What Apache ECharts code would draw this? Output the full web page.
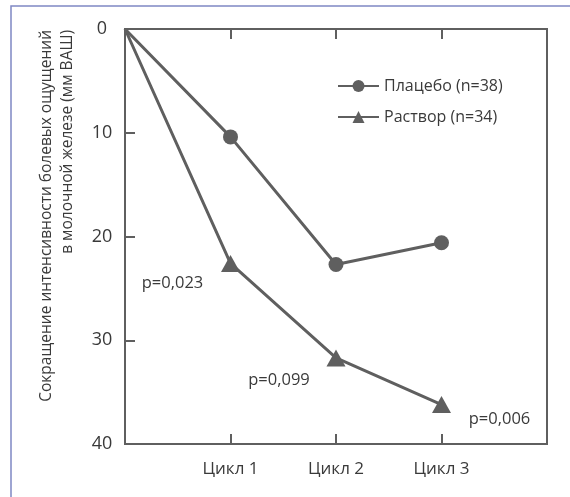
<!DOCTYPE html>
<html style="height: 100%">

<head>
    <meta charset="utf-8">
</head>

<body style="height: 100%; margin: 0; background: #fff">
    <div id="main" style="width: 570px; height: 497px"></div>

    <script type="text/javascript" src="https://cdn.jsdelivr.net/npm/echarts@6/dist/echarts.min.js"></script>

    <script type="text/javascript">
        // cycle positions (0 = start)
        var cycles = [0, 1, 2, 3];
        var cycleNames = ['', 'Цикл 1', 'Цикл 2', 'Цикл 3'];
        var placebo = [0, 10.4, 22.7, 20.6];
        var solution = [0, 22.6, 31.7, 36.2];
        var pValues = ['', 'p=0,023', 'p=0,099', 'p=0,006'];
        var yTicks = [0, 10, 20, 30, 40];

        var textColor = '#3a3a3a';
        var lineColor = '#5f5f5f';
        var font = '"Open Sans", "Noto Sans", sans-serif';

        var dom = document.getElementById("main");
        var myChart = echarts.init(dom);
        var option;

        var pOffsets = [null, [-58, 20], [-57, 22], [58, 15]];

        var placeboData = cycles.map(function (c, i) {
            var item = { value: [c, placebo[i]] };
            if (i === 0) item.symbol = 'none';
            return item;
        });
        var solutionData = cycles.map(function (c, i) {
            var item = { value: [c, solution[i]] };
            if (i === 0) {
                item.symbol = 'none';
            } else {
                item.label = {
                    show: true,
                    position: 'inside',
                    offset: pOffsets[i],
                    formatter: pValues[i]
                };
            }
            return item;
        });

        // ticks point into the plot box
        function tickAxis(pos) {
            return {
                type: 'value',
                position: pos,
                min: 0,
                max: 4,
                interval: 1,
                axisLine: { show: false, onZero: false },
                axisTick: {
                    show: true,
                    inside: true,
                    length: 10,
                    lineStyle: { color: lineColor, width: 2 }
                },
                splitLine: { show: false }
            };
        }

        var bottomAxis = tickAxis('bottom');
        bottomAxis.axisLabel = {
            margin: 17,
            color: textColor,
            fontSize: 17,
            fontFamily: font,
            formatter: function (v) { return cycleNames[v] || ''; }
        };
        var topAxis = tickAxis('top');
        topAxis.axisLabel = { show: false };

        option = {
            backgroundColor: '#fff',
            animation: false,
            textStyle: { fontFamily: font },
            grid: {
                left: 125,
                top: 29,
                right: 23,
                bottom: 53,
                show: true,
                borderColor: lineColor,
                borderWidth: 2,
                backgroundColor: 'transparent'
            },
            graphic: [
                {
                    type: 'polyline',
                    shape: { points: [[11, 497], [11, 6], [570, 6]] },
                    style: { stroke: '#7f88c4', lineWidth: 1.5, fill: null }
                },
                {
                    type: 'text',
                    x: 47,
                    y: 30,
                    rotation: Math.PI / 2,
                    style: {
                        text: 'Сокращение интенсивности болевых ощущений',
                        fill: textColor,
                        font: '15.5px ' + font,
                        textAlign: 'right',
                        textVerticalAlign: 'middle'
                    }
                },
                {
                    type: 'text',
                    x: 68,
                    y: 30,
                    rotation: Math.PI / 2,
                    style: {
                        text: 'в молочной железе (мм ВАШ)',
                        fill: textColor,
                        font: '15.5px ' + font,
                        textAlign: 'right',
                        textVerticalAlign: 'middle'
                    }
                }
            ],
            legend: {
                left: 337,
                top: 78,
                padding: 0,
                orient: 'vertical',
                itemWidth: 41,
                itemHeight: 15,
                itemGap: 15,
                textStyle: { color: textColor, fontSize: 16, fontFamily: font },
                data: ['Плацебо (n=38)', 'Раствор (n=34)']
            },
            xAxis: [bottomAxis, topAxis],
            yAxis: {
                type: 'value',
                inverse: true,
                min: yTicks[0],
                max: yTicks[yTicks.length - 1],
                interval: 10,
                axisLine: { show: false, onZero: false },
                axisTick: {
                    show: true,
                    inside: true,
                    length: 10,
                    lineStyle: { color: lineColor, width: 2 }
                },
                splitLine: { show: false },
                axisLabel: {
                    margin: 23,
                    align: 'center',
                    color: textColor,
                    fontSize: 18,
                    fontFamily: font
                }
            },
            series: [
                {
                    name: 'Плацебо (n=38)',
                    type: 'line',
                    symbol: 'circle',
                    symbolSize: 15,
                    color: lineColor,
                    lineStyle: { color: lineColor, width: 3 },
                    itemStyle: { color: lineColor },
                    data: placeboData
                },
                {
                    name: 'Раствор (n=34)',
                    type: 'line',
                    symbol: 'triangle',
                    symbolSize: [19, 17],
                    color: lineColor,
                    lineStyle: { color: lineColor, width: 3 },
                    itemStyle: { color: lineColor },
                    label: {
                        color: textColor,
                        fontSize: 16.5,
                        fontFamily: font
                    },
                    data: solutionData
                }
            ]
        };

        if (option && typeof option === 'object') {
            myChart.setOption(option);
        }
    </script>
</body>

</html>
